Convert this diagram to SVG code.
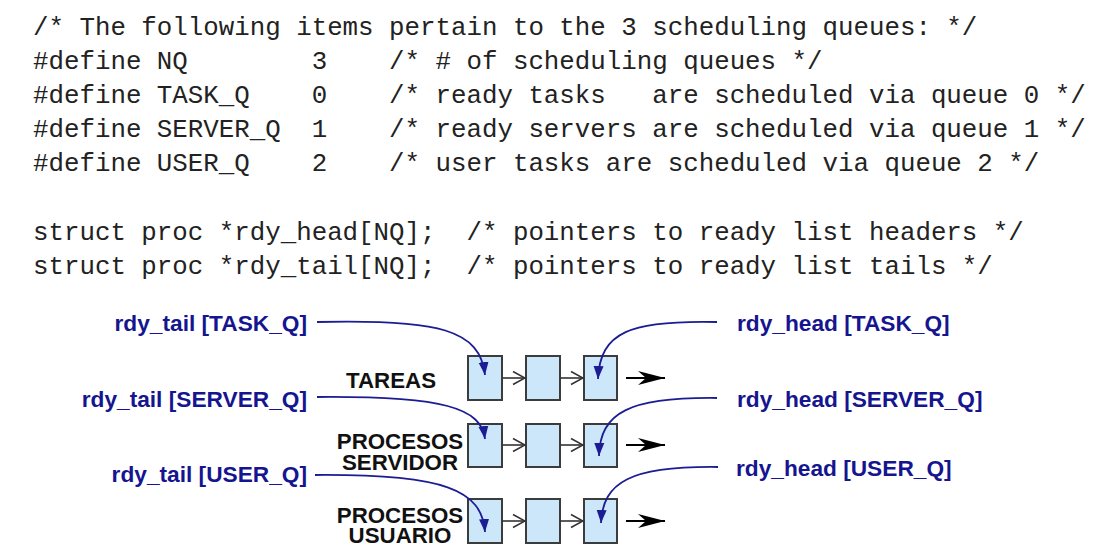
<svg xmlns="http://www.w3.org/2000/svg" width="1102" height="551" viewBox="0 0 1102 551">
<defs>
<style>
.code{font-family:"Liberation Mono","DejaVu Sans Mono",monospace;font-size:25.8px;fill:#222;white-space:pre}
.blue{font-family:"Liberation Sans",Arial,sans-serif;font-weight:bold;font-size:22.7px;fill:#15158f}
.lbl{font-family:"Liberation Sans",Arial,sans-serif;font-weight:bold;font-size:22.3px;fill:#111;text-anchor:middle}
.box{fill:#cce7fa;stroke:#3c3c3c;stroke-width:2}
.link{stroke:#333;stroke-width:1.6;fill:none}
.exit{stroke:#000;stroke-width:2.2;fill:none}
.ptr{stroke:#1c1c94;stroke-width:1.8;fill:none}
</style>
<marker id="chev" markerUnits="userSpaceOnUse" markerWidth="14" markerHeight="16" viewBox="-1 -8 14 16" refX="12" refY="0" orient="auto">
<path d="M0,-6.5 L12,0 L0,6.5" fill="none" stroke="#333" stroke-width="1.6"/>
</marker>
<marker id="barb" markerUnits="userSpaceOnUse" markerWidth="30" markerHeight="16" viewBox="0 -8 30 16" refX="27" refY="0" orient="auto">
<path d="M0,-7 L27,0 L0,7 L8,0 z" fill="#000"/>
</marker>
<marker id="bhead" markerUnits="userSpaceOnUse" markerWidth="14" markerHeight="12" viewBox="0 -6 14 12" refX="13" refY="0" orient="auto">
<path d="M0,-5 L13,0 L0,5 z" fill="#1c1c94"/>
</marker>
</defs>
<rect width="1102" height="551" fill="#fff"/>
<g id="code">
<text class="code" x="33" y="35" xml:space="preserve">/* The following items pertain to the 3 scheduling queues: */</text>
<text class="code" x="33" y="69" xml:space="preserve">#define NQ        3    /* # of scheduling queues */</text>
<text class="code" x="33" y="103" xml:space="preserve">#define TASK_Q    0    /* ready tasks   are scheduled via queue 0 */</text>
<text class="code" x="33" y="137" xml:space="preserve">#define SERVER_Q  1    /* ready servers are scheduled via queue 1 */</text>
<text class="code" x="33" y="171" xml:space="preserve">#define USER_Q    2    /* user tasks are scheduled via queue 2 */</text>
<text class="code" x="33" y="240" xml:space="preserve">struct proc *rdy_head[NQ];  /* pointers to ready list headers */</text>
<text class="code" x="33" y="274" xml:space="preserve">struct proc *rdy_tail[NQ];  /* pointers to ready list tails */</text>
</g>
<g id="queue-labels">
<text class="lbl" x="391" y="388">TAREAS</text>
<text class="lbl" x="400" y="449">PROCESOS</text>
<text class="lbl" x="400" y="470">SERVIDOR</text>
<text class="lbl" x="400" y="523">PROCESOS</text>
<text class="lbl" x="400" y="543">USUARIO</text>
</g>
<g id="tail-labels">
<text class="blue" x="307" y="331" text-anchor="end">rdy_tail [TASK_Q]</text>
<text class="blue" x="307" y="407" text-anchor="end">rdy_tail [SERVER_Q]</text>
<text class="blue" x="307" y="482" text-anchor="end">rdy_tail [USER_Q]</text>
</g>
<g id="head-labels">
<text class="blue" x="737" y="331">rdy_head [TASK_Q]</text>
<text class="blue" x="737" y="407">rdy_head [SERVER_Q]</text>
<text class="blue" x="736" y="476">rdy_head [USER_Q]</text>
</g>
<g id="row-task">
<rect class="box" x="468" y="356" width="34" height="44"/>
<rect class="box" x="526" y="356" width="34" height="44"/>
<rect class="box" x="584" y="356" width="33" height="44"/>
</g>
<g id="row-server">
<rect class="box" x="468" y="424" width="34" height="43"/>
<rect class="box" x="526" y="424" width="34" height="43"/>
<rect class="box" x="584" y="424" width="33" height="43"/>
</g>
<g id="row-user">
<rect class="box" x="468" y="499" width="34" height="44"/>
<rect class="box" x="526" y="499" width="34" height="44"/>
<rect class="box" x="584" y="499" width="33" height="44"/>
</g>
<g id="connectors">
<path class="link" d="M502,378 H525" marker-end="url(#chev)"/>
<path class="link" d="M560,378 H583" marker-end="url(#chev)"/>
<path class="exit" d="M626,378 H665" marker-end="url(#barb)"/>
<path class="link" d="M502,445 H525" marker-end="url(#chev)"/>
<path class="link" d="M560,445 H583" marker-end="url(#chev)"/>
<path class="exit" d="M626,445 H665" marker-end="url(#barb)"/>
<path class="link" d="M502,521 H525" marker-end="url(#chev)"/>
<path class="link" d="M560,521 H583" marker-end="url(#chev)"/>
<path class="exit" d="M626,521 H665" marker-end="url(#barb)"/>
<path class="ptr" d="M317,322 C440,319 480,330 485,375" marker-end="url(#bhead)"/>
<path class="ptr" d="M317,397 C445,396 481,408 485,439" marker-end="url(#bhead)"/>
<path class="ptr" d="M315,475 C445,474 482,490 485,532" marker-end="url(#bhead)"/>
<path class="ptr" d="M717,322 C630,320 600,332 598,379" marker-end="url(#bhead)"/>
<path class="ptr" d="M717,398 C630,397 600,412 599,456" marker-end="url(#bhead)"/>
<path class="ptr" d="M718,467 C630,466 603,482 601,523" marker-end="url(#bhead)"/>
</g>
</svg>
